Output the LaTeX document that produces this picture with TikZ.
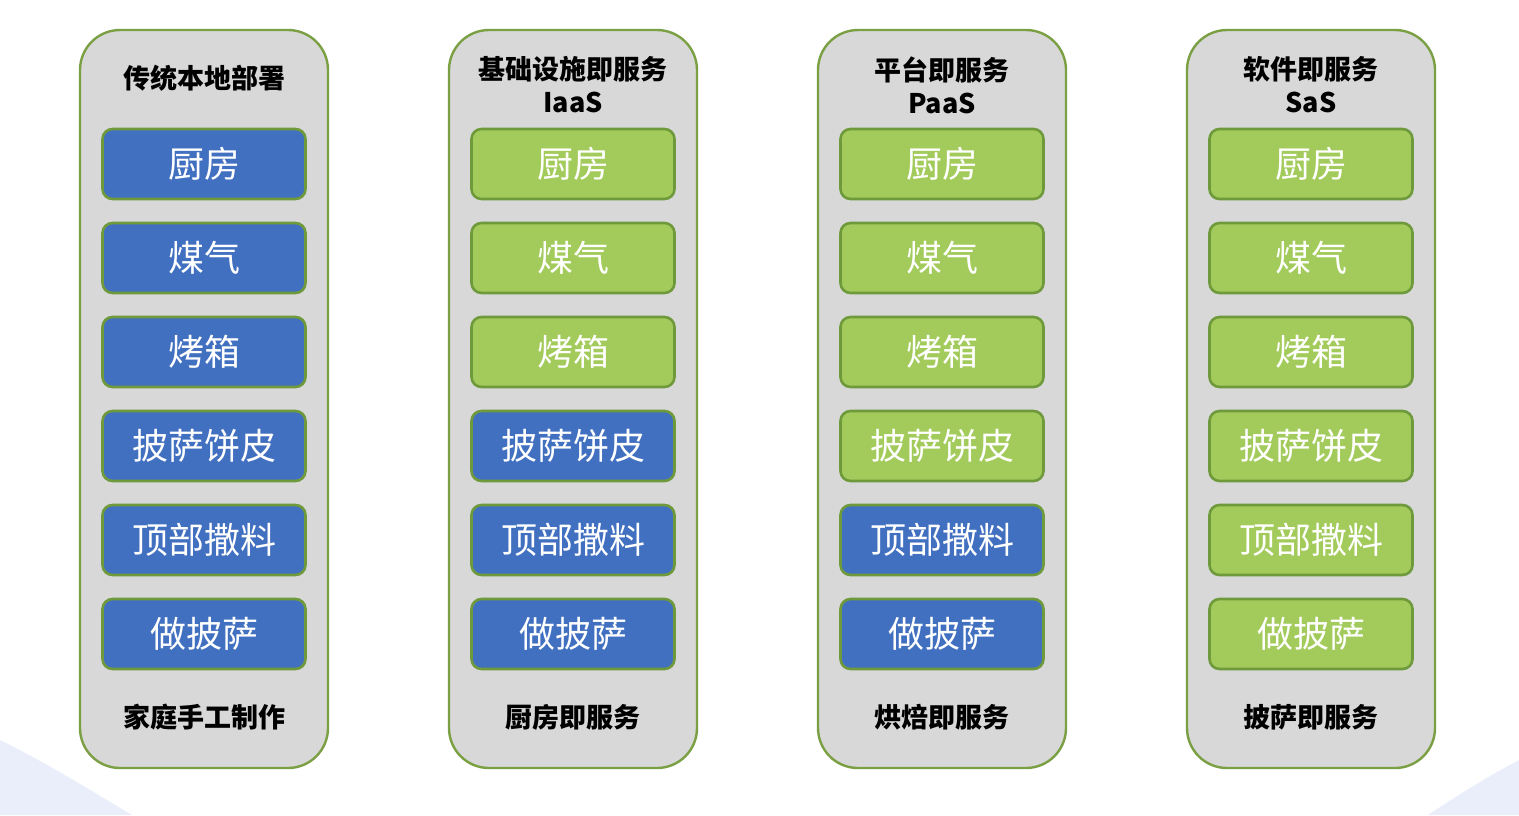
\documentclass[tikz,border=0pt]{standalone}
\usepackage{fontspec}
\setmainfont{Noto Sans CJK SC}
\usepackage{tikz}
\usetikzlibrary{positioning}

\definecolor{colgray}{HTML}{D8D8D8}
\definecolor{colline}{HTML}{7BA044}
\definecolor{boxline}{HTML}{6F9A3B}
\definecolor{ownblue}{HTML}{4270C0}
\definecolor{svcgreen}{HTML}{A3CB5C}
\definecolor{bgblue}{HTML}{E9EEFA}

\begin{document}
\begin{tikzpicture}[
    x=0.5pt, y=-0.5pt,
    node distance=12pt,
    col/.style={draw=colline,line width=1.2pt,fill=colgray,rounded corners=20pt,
                minimum width=124pt,minimum height=369pt,outer sep=0pt},
    layer/.style={draw=boxline,line width=1.3pt,rounded corners=5pt,text=white,
                  minimum width=101.5pt,minimum height=35pt,outer sep=0pt,
                  font=\fontsize{18}{20}\selectfont},
    own/.style={layer,fill=ownblue},
    svc/.style={layer,fill=svcgreen},
    head/.style={align=center,font=\fontsize{13.5}{16.5}\selectfont\bfseries},
    foot/.style={font=\fontsize{13.5}{16.5}\selectfont\bfseries}
  ]
  \useasboundingbox (0,0) rectangle (1519,815);
  % background curves
  \fill[bgblue] (0,740) .. controls (45,762) and (90,790) .. (132,815) -- (0,815) -- cycle;
  \fill[bgblue] (1519,760) .. controls (1485,778) and (1455,797) .. (1428,815) -- (1519,815) -- cycle;

  % on-premises
  \node[col] (c1) at (204,399) {};
  \node[head] (t1) at ([yshift=-24pt]c1.north) {传统本地部署};
  \node[own,below=49.5pt of c1.north] (a1) {厨房};
  \node[own,below=of a1] (a2) {煤气};
  \node[own,below=of a2] (a3) {烤箱};
  \node[own,below=of a3] (a4) {披萨饼皮};
  \node[own,below=of a4] (a5) {顶部撒料};
  \node[own,below=of a5] (a6) {做披萨};
  \node[foot] (f1) at ([yshift=25.5pt]c1.south) {家庭手工制作};

  % IaaS
  \node[col] (c2) at (573,399) {};
  \node[head] (t2) at ([yshift=-27.5pt]c2.north) {基础设施即服务\\IaaS};
  \node[svc,below=49.5pt of c2.north] (b1) {厨房};
  \node[svc,below=of b1] (b2) {煤气};
  \node[svc,below=of b2] (b3) {烤箱};
  \node[own,below=of b3] (b4) {披萨饼皮};
  \node[own,below=of b4] (b5) {顶部撒料};
  \node[own,below=of b5] (b6) {做披萨};
  \node[foot] (f2) at ([yshift=25.5pt]c2.south) {厨房即服务};

  % PaaS
  \node[col] (c3) at (942,399) {};
  \node[head] (t3) at ([yshift=-27.5pt]c3.north) {平台即服务\\PaaS};
  \node[svc,below=49.5pt of c3.north] (p1) {厨房};
  \node[svc,below=of p1] (p2) {煤气};
  \node[svc,below=of p2] (p3) {烤箱};
  \node[svc,below=of p3] (p4) {披萨饼皮};
  \node[own,below=of p4] (p5) {顶部撒料};
  \node[own,below=of p5] (p6) {做披萨};
  \node[foot] (f3) at ([yshift=25.5pt]c3.south) {烘焙即服务};

  % SaaS
  \node[col] (c4) at (1311,399) {};
  \node[head] (t4) at ([yshift=-27.5pt]c4.north) {软件即服务\\SaS};
  \node[svc,below=49.5pt of c4.north] (s1) {厨房};
  \node[svc,below=of s1] (s2) {煤气};
  \node[svc,below=of s2] (s3) {烤箱};
  \node[svc,below=of s3] (s4) {披萨饼皮};
  \node[svc,below=of s4] (s5) {顶部撒料};
  \node[svc,below=of s5] (s6) {做披萨};
  \node[foot] (f4) at ([yshift=25.5pt]c4.south) {披萨即服务};
\end{tikzpicture}
\end{document}
